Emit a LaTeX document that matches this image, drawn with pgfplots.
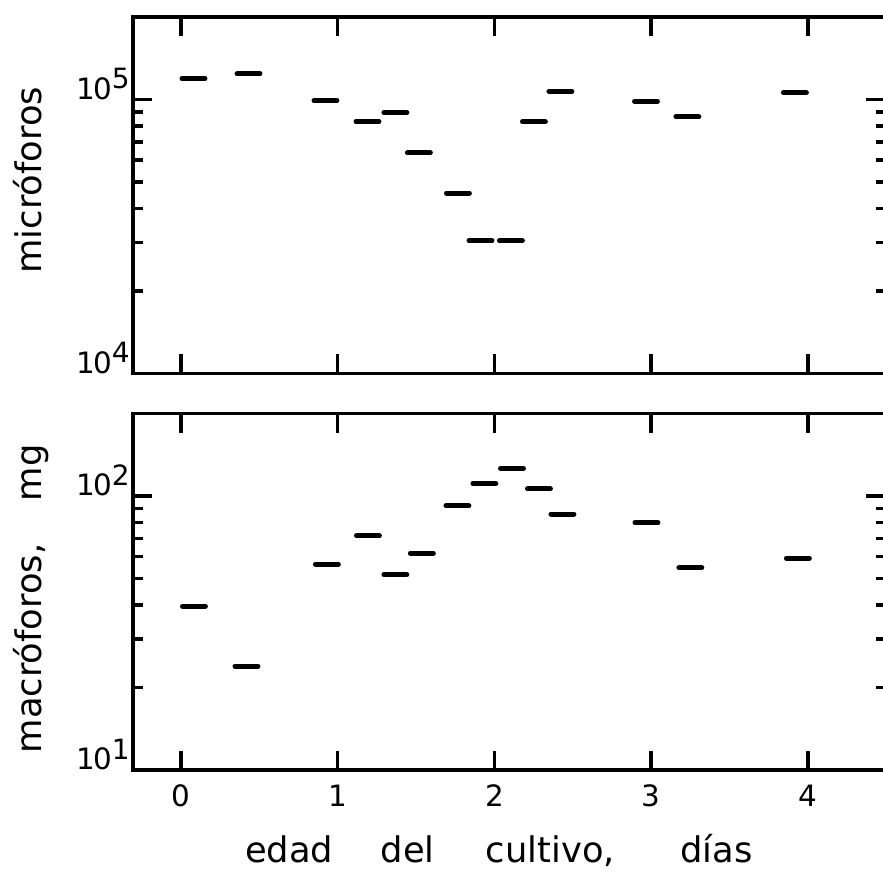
\documentclass[border=0pt]{standalone}
\usepackage{fontspec}
\setmainfont{DejaVu Sans}
\usepackage{pgfplots}
\pgfplotsset{compat=1.18}

\newcommand\pw[2]{1\kern-0.8pt#1\raisebox{3.6pt}{\fontsize{9.5}{9.5}\selectfont #2}}

\pgfplotstableread{
x y
0.080 119000
0.431 124000
0.922 99000
1.190 83000
1.368 89500
1.518 63800
1.767 45500
1.911 30500
2.105 30500
2.252 82800
2.421 107000
2.967 98400
3.231 86500
3.917 106000
}\micro

\pgfplotstableread{
x y
0.083 39.6
0.418 23.9
0.931 56.4
1.193 71.5
1.368 51.6
1.537 61.8
1.764 92.0
1.936 111
2.112 126
2.284 106
2.434 85.9
2.970 79.8
3.250 54.7
3.936 59.3
}\macro

\pgfplotsset{
  panel/.style={
    scale only axis, width=255.85pt, height=121.2pt,
    xmin=-0.306, xmax=4.495,
    axis line style={line width=1.25pt},
    every tick/.style={line width=1.2pt, black},
    major tick length=6.5pt, minor tick length=3.4pt,
    tick align=inside,
    xtick={0,1,2,3,4},
    xtick pos=both, ytick pos=both,
    yticklabel style={anchor=base east, inner sep=0pt, xshift=-0.9pt, font=\fontsize{10}{10}\selectfont},
    xticklabel style={yshift=-1.5pt, font=\fontsize{10}{10}\selectfont},
    ylabel style={anchor=base, font=\fontsize{12}{12}\selectfont},
  },
  dash/.style={only marks, mark=-, mark size=3.9pt, black,
    mark options={line width=1.7pt, line cap=round}},
}

\begin{document}
\begin{tikzpicture}
\useasboundingbox (-45.22pt,-34.68pt) rectangle (255pt,261.78pt);

\begin{semilogyaxis}[panel,
  at={(0,0)}, anchor=south west,
  ymin=10, ymax=200,
  ytick={10,100}, yticklabels={\pw{0}{1},\pw{0}{2}},
  minor ytick={20,30,40,50,60,70,80,90},
  xticklabels={0,1,2,3,4},
  ylabel={macróforos,\hspace{1.2em}mg},
  ylabel style={at={(axis description cs:-0.121,0.48)}},
  xlabel={edad\hspace{1.35em}del\hspace{1.45em}cultivo,\hspace{1.85em}días},
  xlabel style={at={(axis description cs:0.486,0)}, anchor=base, yshift=-31.6pt, font=\fontsize{12}{12}\selectfont},
]
\addplot[dash] table {\macro};
\end{semilogyaxis}

\begin{semilogyaxis}[panel,
  at={(0,134.8pt)}, anchor=south west,
  ymin=1e4, ymax=2e5,
  ytick={1e4,1e5}, yticklabels={\pw{0}{4},\pw{0}{5}},
  minor ytick={2e4,3e4,4e4,5e4,6e4,7e4,8e4,9e4},
  xticklabels={},
  ylabel={micróforos},
  ylabel style={at={(axis description cs:-0.121,0.542)}},
]
\addplot[dash] table {\micro};
\end{semilogyaxis}
\end{tikzpicture}
\end{document}
